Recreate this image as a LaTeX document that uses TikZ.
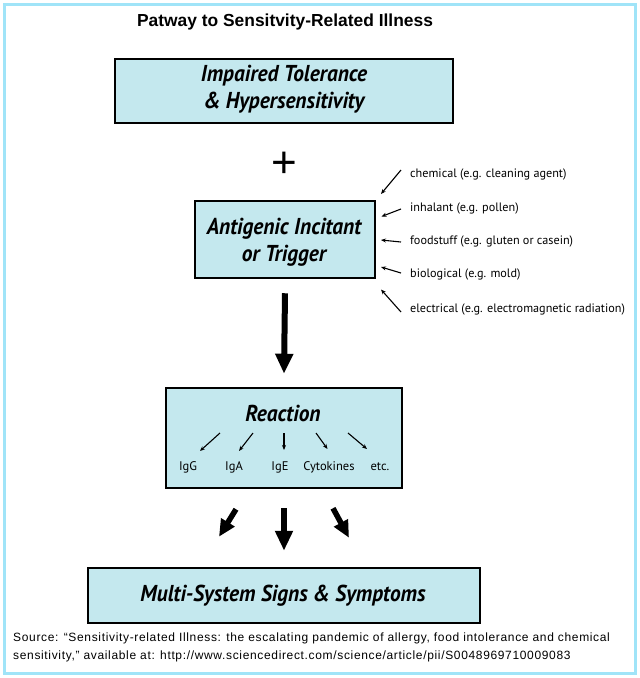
\documentclass[tikz,border=0pt]{standalone}
\usepackage{fontspec}
\usepackage{graphicx}
\setmainfont{Liberation Sans}
\newfontfamily\boxfont{PT Sans}
\newfontfamily\labfont{PT Sans}
\usetikzlibrary{arrows.meta}
\definecolor{framecol}{RGB}{160,228,248}
\definecolor{boxfill}{RGB}{196,232,238}
\newcommand{\sqz}[1]{\scalebox{0.93}[1]{#1}}
\begin{document}
\begin{tikzpicture}[x=1pt,y=-1pt,
  stepbox/.style={draw=black, line width=2.5pt, fill=boxfill, inner sep=0pt, align=center},
  boxtext/.style={font=\boxfont\bfseries\itshape\fontsize{23}{27}\selectfont, align=center, inner sep=0pt},
  lab/.style={font=\labfont\fontsize{12.2}{14}\selectfont, inner sep=0pt, anchor=west},
  sublab/.style={font=\labfont\fontsize{12.5}{14}\selectfont, inner sep=0pt},
  thin/.style={line width=1.1pt, -{Stealth[length=5pt,width=4pt]}},
  bigarrow/.style={line width=6pt, -{Triangle[width=17pt,length=20pt]}},
  diagarrow/.style={line width=5.5pt, -{Triangle[width=15pt,length=17pt]}},
  src/.style={font=\addfontfeature{LetterSpace=5.5}\fontsize{12}{14}\selectfont, inner sep=0pt, anchor=west}
]
\useasboundingbox (0,0) rectangle (640,678);
\fill[white] (0,0) rectangle (640,678);
\draw[framecol, line width=3pt] (4.5,4.5) rectangle (635.5,673.5);

\node[font=\bfseries\fontsize{17.4}{20}\selectfont, inner sep=0pt] (title) at (285,22) {Patway to Sensitvity-Related Illness};

\node[stepbox, minimum width=338pt, minimum height=64pt] (b1) at (284,91) {};
\node[boxtext] (t1) at (284,89) {\sqz{Impaired Tolerance}\\\sqz{\& Hypersensitivity}};

\node[font=\fontsize{44}{44}\selectfont, inner sep=0pt] (plus) at (284.5,165) {+};

\node[stepbox, minimum width=180pt, minimum height=77pt] (b2) at (285,239.5) {};
\node[boxtext] (t2) at (284,242) {\sqz{Antigenic Incitant}\\\sqz{or Trigger}};

\node[lab] (chem) at (410,174) {chemical (e.g. cleaning agent)};
\node[lab] (inh) at (410,208) {inhalant (e.g. pollen)};
\node[lab] (food) at (410,241) {foodstuff (e.g. gluten or casein)};
\node[lab] (bio) at (410,274) {biological (e.g. mold)};
\node[lab] (elec) at (410,309) {electrical (e.g. electromagnetic radiation)};

\coordinate (c1) at (381,194);
\coordinate (c2) at (381.5,216.5);
\coordinate (c3) at (381,240);
\coordinate (c4) at (381,267);
\coordinate (c5) at (381,289.5);
\draw[thin] ([xshift=-9pt,yshift=4pt]chem.west) -- (c1);
\draw[thin] ([xshift=-9pt,yshift=-1pt]inh.west) -- (c2);
\draw[thin] ([xshift=-9pt,yshift=-1pt]food.west) -- (c3);
\draw[thin] ([xshift=-9pt,yshift=1pt]bio.west) -- (c4);
\draw[thin] ([xshift=-9pt,yshift=-3pt]elec.west) -- (c5);

\node[stepbox, minimum width=236pt, minimum height=100pt] (b3) at (284,438) {};
\node[boxtext] (t3) at (283,413) {\sqz{Reaction}};

\draw[bigarrow] ([yshift=-14pt]b2.south) -- ([yshift=13pt]b3.north);

\node[sublab] (igg) at (188,467) {IgG};
\node[sublab] (iga) at (234,467) {IgA};
\node[sublab] (ige) at (280,467) {IgE};
\node[sublab] (cyt) at (329,467) {Cytokines};
\node[sublab] (etc) at (380,467) {etc.};

\coordinate (s1) at (220,433);
\coordinate (s2) at (253,433);
\coordinate (s3) at (284,433);
\coordinate (s4) at (316,433);
\coordinate (s5) at (348,433);
\coordinate (e1) at (200,451);
\coordinate (e2) at (239,451);
\coordinate (e3) at (284,450);
\coordinate (e4) at (327.5,449);
\coordinate (e5) at (367,449);
\draw[thin] (s1) -- (e1);
\draw[thin] (s2) -- (e2);
\draw[thin] (s3) -- (e3);
\draw[thin] (s4) -- (e4);
\draw[thin] (s5) -- (e5);

\node[stepbox, minimum width=392pt, minimum height=55pt] (b4) at (284,595.5) {};
\node[boxtext] (t4) at (283,596) {\sqz{Multi-System Signs \& Symptoms}};

\draw[diagarrow] ([xshift=-48pt,yshift=-20pt]b3.south) -- ([xshift=-65pt,yshift=30pt]b4.north);
\draw[bigarrow] ([yshift=-19pt]b3.south) -- ([yshift=16pt]b4.north);
\draw[diagarrow] ([xshift=49pt,yshift=-19pt]b3.south) -- ([xshift=65pt,yshift=29pt]b4.north);

\node[src] (src1) at (13,638) {Source: “Sensitivity-related Illness: the escalating pandemic of allergy, food intolerance and chemical};
\node[src] (src2) at (13,656) {sensitivity,” available at: http://www.sciencedirect.com/science/article/pii/S0048969710009083};
\end{tikzpicture}
\end{document}
